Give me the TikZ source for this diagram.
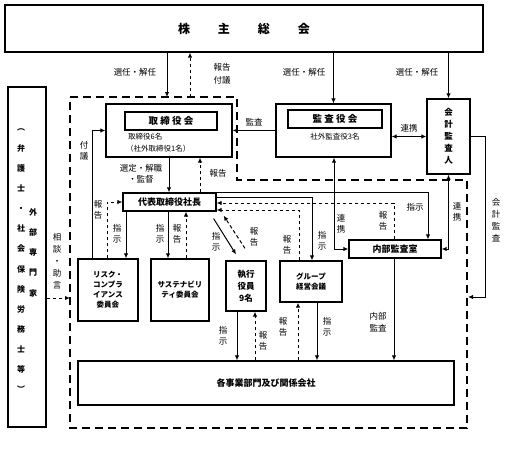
\documentclass[tikz,border=0pt]{standalone}
\usepackage{fontspec}
\newfontfamily\jp{Noto Sans CJK JP}
\usetikzlibrary{arrows.meta}

\begin{document}
\begin{tikzpicture}[x=1pt,y=-1pt,
        box/.style={draw,line width=1.3pt,inner sep=0pt,align=center,font=\jp\bfseries\fontsize{8}{10}\selectfont},
        lab/.style={inner sep=0pt,align=center,font=\jp\fontsize{8.5}{11.5}\selectfont},
        small/.style={inner sep=0pt,font=\jp\fontsize{7.5}{10}\selectfont},
        arr/.style={line width=1pt,-{Latex[length=5pt,width=4.5pt]}},
        darr/.style={arr,dash pattern=on 3.5pt off 2.5pt},
        both/.style={line width=1pt,{Latex[length=5pt,width=4.5pt]}-{Latex[length=5pt,width=4.5pt]}},
        frame/.style={line width=1.3pt,dash pattern=on 8pt off 5pt}]
        \useasboundingbox (0,0) rectangle (507,455);
        % boxes
        \node[box,minimum width=478,minimum height=47,font=\jp\bfseries\fontsize{12}{14}\selectfont] (soukai) at (244,28.5)
            {株\hspace{28pt}主\hspace{28pt}総\hspace{28pt}会};
        \node[box,minimum width=38,minimum height=340] (gaibu) at (27,257) {};
        \node[lab,font=\jp\bfseries\fontsize{8}{20.15}\selectfont] (gaibu1) at (21,261)
            {︵\\弁\\護\\士\\・\\社\\会\\保\\険\\労\\務\\士\\等\\︶};
        \node[lab,font=\jp\bfseries\fontsize{8}{20.25}\selectfont] (gaibu2) at (33,252.5)
            {外\\部\\専\\門\\家};
        \node[box,minimum width=126,minimum height=53] (torishimari) at (169,130.5) {};
        \node[box,minimum width=92,minimum height=18,font=\jp\bfseries\fontsize{9.5}{11}\selectfont] (torititle) at (171,121) {取 締 役 会};
        \node[small,anchor=west] (torin1) at (128,137) {取締役6名};
        \node[small,anchor=west] (torin2) at (126,148.5) {（社外取締役1名）};
        \node[box,minimum width=115,minimum height=53] (kansa) at (333.5,130.5) {};
        \node[box,minimum width=94,minimum height=18,font=\jp\bfseries\fontsize{9.5}{11}\selectfont] (kansatitle) at (335,119) {監 査 役 会};
        \node[small] (kansan) at (335,137) {社外監査役3名};
        \node[box,minimum width=43,minimum height=75,font=\jp\bfseries\fontsize{8.5}{12}\selectfont] (kaikei) at (448.5,136.5)
            {会\\計\\監\\査\\人};
        \node[box,minimum width=93,minimum height=18,font=\jp\bfseries\fontsize{9}{10}\selectfont] (ceo) at (169.5,202) {代表取締役社長};
        \node[box,minimum width=60,minimum height=62,font=\jp\bfseries\fontsize{7.5}{10}\selectfont] (risk) at (108,290)
            {リスク・\\コンプラ\\イアンス\\委員会};
        \node[box,minimum width=58,minimum height=62,font=\jp\bfseries\fontsize{7.5}{10}\selectfont] (sustena) at (180,290)
            {サステナビリ\\ティ委員会};
        \node[box,minimum width=40,minimum height=50,font=\jp\bfseries\fontsize{8.5}{12}\selectfont] (shikko) at (246,286)
            {執行\\役員\\9名};
        \node[box,minimum width=62,minimum height=41,font=\jp\bfseries\fontsize{7.5}{10}\selectfont] (group) at (311,281.5)
            {グループ\\経営会議};
        \node[box,minimum width=92,minimum height=18,font=\jp\bfseries\fontsize{9}{10}\selectfont] (naibu) at (395,249) {内部監査室};
        \node[box,minimum width=376,minimum height=44,font=\jp\bfseries\fontsize{9}{10}\selectfont] (kaku) at (266,383) {各事業部門及び関係会社};

        % company frame
        \draw[frame] (70,97) -- (237,97) -- (237,180) -- (467,180) -- (467,428) -- (70,428) -- cycle;
        \coordinate (ftop1) at (167,97);
        \coordinate (ftop2) at (190,97);
        \coordinate (fright) at (468,297);
        \coordinate (fleft) at (70,298);

        % connectors
        \draw[arr] (soukai.south -| ftop1) -- (ftop1);
        \draw[darr] (ftop2) -- (soukai.south -| ftop2);
        \draw[arr] (soukai.south -| kansa.north) -- (kansa.north);
        \draw[arr] (soukai.south -| kaikei.north) -- (kaikei.north);
        \draw[arr] (kansa.west) -- (torishimari.east);
        \draw[both] (kansa.east |- kaikei.west) -- (kaikei.west);
        \draw[arr] (kaikei.east) -- (485,136.5) |- (fright);
        \draw[darr] (gaibu.east |- fleft) -- (fleft);
        \draw[arr] (torishimari.south) -- (torishimari.south |- ceo.north);
        \draw[darr] (ceo.north -| 200,0) -- (torishimari.south -| 200,0);
        \draw[arr] (risk.north -| 92,0) |- (torishimari.west);
        \draw[darr] (risk.north -| 107,0) |- (ceo.west);
        \draw[arr] (ceo.south -| 126,0) -- (risk.north -| 126,0);
        \draw[arr] (ceo.south -| 168,0) -- (sustena.north -| 168,0);
        \draw[darr] (sustena.north -| 186,0) -- (ceo.south -| 186,0);
        \draw[arr] ([xshift=-3pt,yshift=-7pt]ceo.south east) -- ([xshift=-10pt,yshift=6pt]shikko.north);
        \draw[darr] ([xshift=-1pt,yshift=12pt]shikko.north) -- ([xshift=7pt,yshift=-4pt]ceo.south east);
        \draw[arr] (shikko.south -| 237,0) -- (kaku.north -| 237,0);
        \draw[darr] (kaku.north -| 255,0) -- (shikko.south -| 255,0);
        \draw[arr] (group.south -| 317,0) -- (kaku.north -| 317,0);
        \draw[darr] (kaku.north -| 298,0) -- (group.south -| 298,0);
        \draw[arr] (ceo.north east) -| (naibu.north -| 428,0);
        \draw[arr] ([yshift=5pt]ceo.east) -| ([xshift=1pt]group.north);
        \draw[darr] (naibu.north -| 394,0) |- ([yshift=-1pt]ceo.east);
        \draw[darr] (group.north -| 299,0) |- ([yshift=-8pt]ceo.east);
        \draw[both] (kansa.south -| 334,0) |- (naibu.west);
        \draw[both] (kaikei.south) |- (naibu.east);
        \draw[arr] (naibu.south -| 394,0) -- (kaku.north -| 394,0);

        % labels
        \node[lab] (l1) at (135,72) {選任・解任};
        \node[lab] (l2) at (304,72) {選任・解任};
        \node[lab] (l3) at (417,72) {選任・解任};
        \node[lab,font=\jp\fontsize{8.5}{13}\selectfont] (l4) at (222,73.5) {報告\\付議};
        \node[lab] (l5) at (254,122) {監査};
        \node[lab] (l6) at (409,128) {連携};
        \node[lab,font=\jp\fontsize{8.5}{12}\selectfont] (l7) at (496,220) {会\\計\\監\\査};
        \node[lab] (l8) at (84,151) {付\\議};
        \node[lab,font=\jp\fontsize{8.5}{10.5}\selectfont] (l9) at (141,174) {選定・解職\\・監督};
        \node[lab] (l10) at (218,173) {報告};
        \node[lab] (l11) at (98,210) {報\\告};
        \node[lab] (l12) at (117,234) {指\\示};
        \node[lab] (l13) at (160,234) {指\\示};
        \node[lab] (l14) at (177,234) {報\\告};
        \node[lab] (l15) at (216,242) {指\\示};
        \node[lab] (l16) at (254,237) {報\\告};
        \node[lab] (l17) at (287,245) {報\\告};
        \node[lab] (l18) at (322,241) {指\\示};
        \node[lab] (l19) at (341,224) {連\\携};
        \node[lab] (l20) at (383,221) {報\\告};
        \node[lab] (l21) at (415,207) {指示};
        \node[lab] (l22) at (457,212) {連\\携};
        \node[lab,font=\jp\fontsize{8.5}{12}\selectfont] (l23) at (57,261) {相\\談\\・\\助\\言};
        \node[lab] (l24) at (223,336) {指\\示};
        \node[lab] (l25) at (263,341) {報\\告};
        \node[lab] (l26) at (283,327) {報\\告};
        \node[lab] (l27) at (327,327) {指\\示};
        \node[lab] (l28) at (378,322) {内部\\監査};
\end{tikzpicture}
\end{document}
